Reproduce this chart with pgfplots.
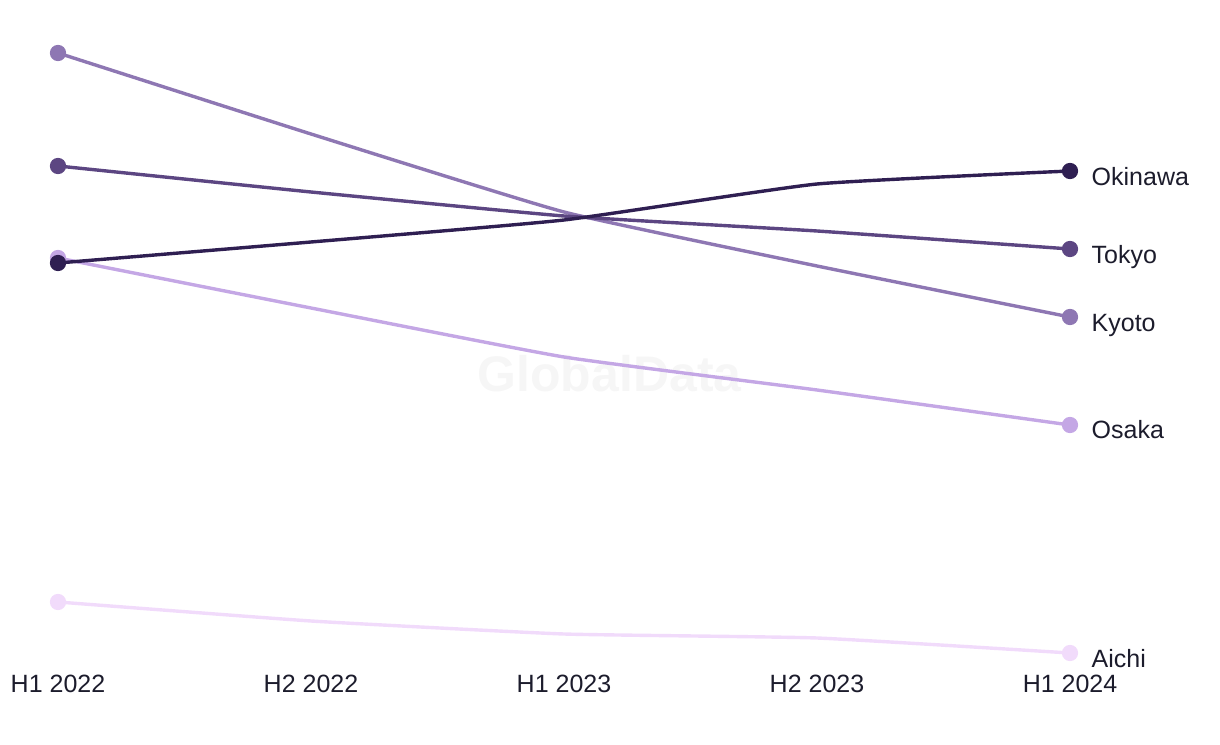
\documentclass[border=0pt]{standalone}
\usepackage{fontspec}
\setmainfont{Liberation Sans}
\usepackage{pgfplots}
\pgfplotsset{compat=1.18}
\definecolor{cKyoto}{HTML}{8E77B3}
\definecolor{cTokyo}{HTML}{5C4682}
\definecolor{cOkinawa}{HTML}{2F1F52}
\definecolor{cOsaka}{HTML}{C4A7E5}
\definecolor{cAichi}{HTML}{F1DBFB}
\definecolor{txt}{HTML}{1C1C2C}
\definecolor{wm}{HTML}{F6F6F6}
\tikzset{lbl/.style={anchor=base west, inner sep=0pt, xshift=10pt, yshift=-7.5pt,
     font=\fontsize{12.5}{14}\selectfont, text=txt}}
\begin{document}
\begin{tikzpicture}
\useasboundingbox (0,0) rectangle (610pt,372pt);
\begin{axis}[
  at={(29pt,36pt)}, anchor=south west,
  scale only axis, width=506pt, height=336pt,
  xmin=0, xmax=4, ymin=72, ymax=744,
  clip=false,
  axis line style={draw=none},
  tick style={draw=none},
  ytick=\empty,
  xtick={0,1,2,3,4},
  xticklabels={H1 2022,H2 2022,H1 2023,H2 2023,H1 2024},
  xticklabel style={anchor=north, inner sep=0pt, yshift=-1.5pt,
     font=\fontsize{12.5}{14}\selectfont, text=txt},
  every axis plot/.append style={line width=1.7pt, smooth, tension=0.25,
     mark=*, mark size=3.2pt, mark indices={1,5}},
]
\node[font=\fontsize{25}{30}\selectfont\bfseries, text=wm] at (axis cs:2.18,370) {GlobalData};
\addplot[color=cAichi] coordinates {(0,142) (1,123) (2,110) (3,106) (4,91)}
  node[lbl, pos=1, yshift=0.4pt] {Aichi};
\addplot[color=cOsaka] coordinates {(0,486) (1,436) (2,387) (3,354) (4,319)}
  node[lbl, pos=1, yshift=0.5pt] {Osaka};
\addplot[color=cKyoto] coordinates {(0,691) (1,610) (2,532) (3,478) (4,427)}
  node[lbl, pos=1] {Kyoto};
\addplot[color=cTokyo] coordinates {(0,578) (1,552) (2,528) (3,513) (4,495)}
  node[lbl, pos=1] {Tokyo};
\addplot[color=cOkinawa] coordinates {(0,481) (1,502) (2,524) (3,560) (4,573)}
  node[lbl, pos=1] {Okinawa};
\end{axis}
\end{tikzpicture}
\end{document}
